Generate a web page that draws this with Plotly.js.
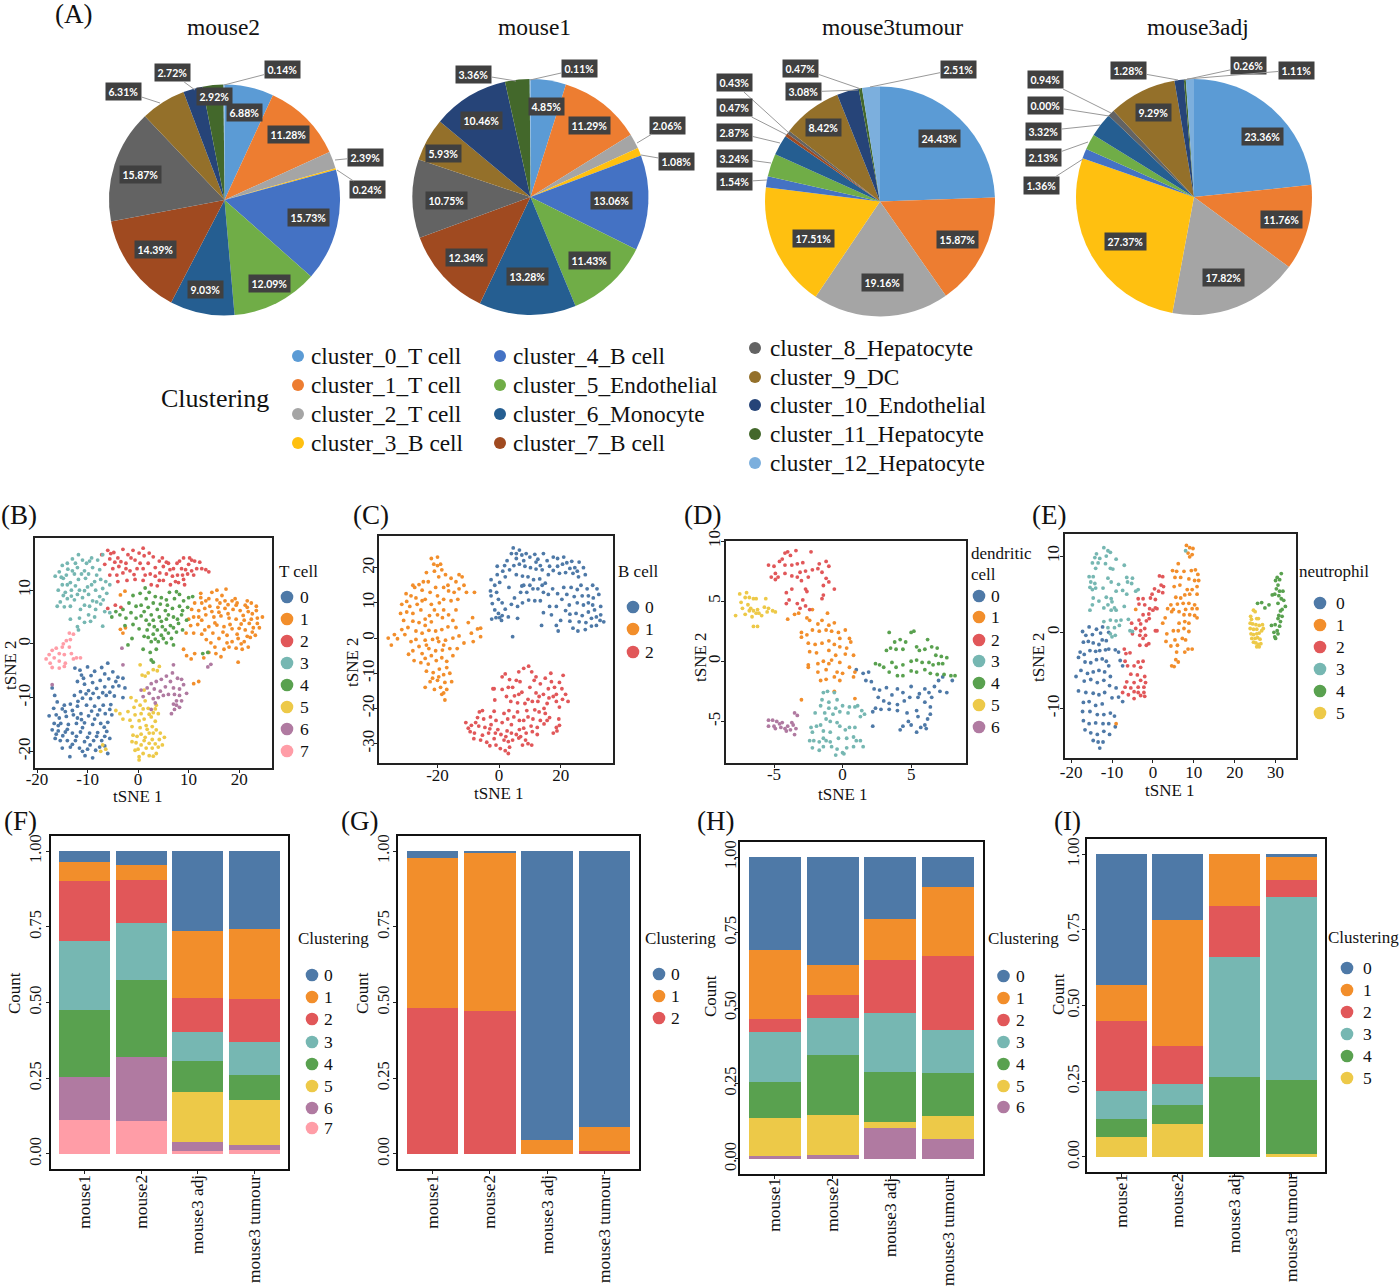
<!DOCTYPE html>
<html><head><meta charset="utf-8">
<script src="https://cdn.plot.ly/plotly-3.0.1.min.js"></script>
<style>html,body{margin:0;padding:0;background:#fff}</style></head>
<body><div id="chart" style="width:1400px;height:1286px"></div>
<script>
const W=1400,H=1286,SERIF='"Liberation Serif","Times New Roman",serif';
// ---- pie data ----
const clusterNames=['cluster_0_T cell','cluster_1_T cell','cluster_2_T cell','cluster_3_B cell','cluster_4_B cell','cluster_5_Endothelial','cluster_6_Monocyte','cluster_7_B cell','cluster_8_Hepatocyte','cluster_9_DC','cluster_10_Endothelial','cluster_11_Hepatocyte','cluster_12_Hepatocyte'];
const pieColors=['#5B9BD5','#ED7D31','#A5A5A5','#FFC010','#4472C4','#70AD47','#255E91','#A04A20','#636363','#94702A','#264478','#43682B','#7CAFDD'];
const mouse2Pie=[6.88,11.28,2.39,0.24,15.73,12.09,9.03,14.39,15.87,6.31,2.72,2.92,0.14];
const mouse1Pie=[4.85,11.29,2.06,1.08,13.06,11.43,13.28,12.34,10.75,5.93,10.46,3.36,0.11];
const tumourPie=[24.43,15.87,19.16,17.51,1.54,3.24,2.87,0.43,0.47,8.42,3.08,0.47,2.51];
const adjPie=[23.36,11.76,17.82,27.37,1.36,2.13,3.32,0.00,0.94,9.29,1.28,0.26,1.11];
// ---- bar data (top to bottom = cluster 0 ...) ----
const sampleNames=['mouse1','mouse2','mouse3 adj','mouse3 tumour'];
const tab=['#4E79A7','#F28E2B','#E15759','#76B7B2','#59A14F','#EDC948','#B07AA1','#FF9DA7'];
const barF=[[.037,.046,.265,.255],[.063,.051,.220,.232],[.197,.143,.113,.142],[.227,.186,.096,.111],[.221,.254,.103,.082],[0,0,.164,.149],[.144,.214,.030,.014],[.111,.107,.010,.014]];
const barG=[[.022,.007,.953,.911],[.495,.520,.047,.078],[.483,.473,0,.011]];
const barH=[[.308,.357,.204,.100],[.231,.099,.138,.227],[.043,.078,.176,.247],[.163,.122,.195,.143],[.119,.200,.166,.140],[.127,.131,.019,.076],[.010,.013,.102,.067]];
const barI=[[.431,.218,0,.010],[.121,.416,.170,.075],[.232,.126,.169,.058],[.091,.068,.397,.602],[.058,.065,.264,.245],[.067,.107,0,.010]];
// ---- tSNE points ----
const T0=[[-12.5,-4.5],[-11.2,-5.8],[-10,-4.3],[-8.6,-5.1],[-7.2,-4.4],[-6,-3.6],[-5,-5.2],[-4,-6.2],[-3,-6.4],[-5.8,-6.5],[-7.5,-6.8],[-9,-7.2],[-10.6,-7.5],[-12,-7],[-11.4,-8.9],[-9.8,-8.7],[-8.2,-8.3],[-6.6,-8],[-5,-8],[-3.8,-7.8],[-2.6,-8.2],[-3,-10],[-4.7,-9.7],[-6.3,-9.6],[-7.8,-10],[-9.4,-10.2],[-11,-10.1],[-12.6,-9.6],[-13.4,-11.2],[-12,-11.6],[-10.2,-11.4],[-8.6,-11.6],[-6.9,-11.4],[-5.4,-11.3],[-17,-8.2],[-16.5,-9.6],[-16,-10.8],[-16.7,-12],[-17.6,-13.4],[-16.2,-13.2],[-15,-12.1],[-14.2,-13.5],[-12.8,-13.2],[-11.3,-13],[-9.8,-13.4],[-8,-13.2],[-6.5,-13],[-5.2,-13.2],[-6,-14.6],[-7.4,-14.8],[-9,-15],[-10.6,-14.7],[-12.2,-14.8],[-13.8,-15],[-15.3,-14.8],[-16.6,-14.8],[-17,-16],[-15.8,-16.2],[-14.4,-16.4],[-13,-16.6],[-11.4,-16.4],[-9.6,-16.6],[-8,-16.5],[-6.2,-16.3],[-5.6,-17.6],[-7.2,-18],[-8.8,-18],[-10.6,-18.2],[-12.4,-18],[-14,-18],[-15.4,-18],[-16.4,-17.6],[-15,-19.4],[-13.4,-19.2],[-11.6,-19.4],[-10,-19.6],[-8.4,-19.8],[-6.6,-19],[-13.5,-21],[-10.5,-20.8],[-9,-21.2],[-6,-20.4],[-10.8,-6.4],[-7,-9.1],[-13,-12.4],[-14.9,-17.1],[-11,-15.6],[-8.2,-17.2],[-11.5,-4.9],[-9.3,-5.9],[-6.6,-5.6],[-4.4,-7],[-8.9,-9.2],[-10.3,-9.3],[-5.6,-9],[-11.9,-10.7],[-7.6,-12.3],[-14.6,-11.4],[-15.6,-13.8],[-12,-13.8],[-8.6,-14],[-6.7,-15.5],[-14,-15.9],[-12.2,-17.2],[-10,-17.4],[-15.8,-15.2],[-13,-18.7],[-9.5,-18.8],[-7.6,-19.2],[-11,-20],[-14.4,-12.6],[-5.6,-12.2],[-9.2,-12.5],[-11.2,-14.1],[-16.2,-16.8],[-6.6,-17.2]];
const T1=[[9,-1],[9.6,-2.2],[10.5,-2.8],[11,2],[9.5,2],[10.4,3.4],[11.8,3.6],[12.6,1.8],[13.5,0.8],[14.8,2],[16,1],[17.6,1.6],[18.6,0.4],[19.8,1],[21,0.4],[22.2,1.2],[23.2,1.6],[24,3],[22.8,3],[21.2,2.6],[20,2.9],[18.6,2.8],[17,3.2],[15.6,3.5],[14,3.2],[12.6,4.4],[11,5],[12,6.2],[13.4,5.4],[15,5],[16.4,5.2],[18,4.8],[19.4,4.6],[21,4.4],[22.4,4.6],[23.6,4.8],[24.6,5],[23.4,6.2],[21.8,6],[20.2,6.2],[18.8,6.4],[17.2,6.6],[15.8,6.8],[14.2,7],[12.6,7.6],[11.2,7.6],[10.6,6.4],[12.4,8.6],[14,8.4],[15.6,8.2],[17.2,8],[18.6,8],[19.6,7.6],[21.2,7.2],[22.4,7.6],[21.6,8],[23.4,7],[16.6,9],[19.2,8.4],[12.4,9.4],[14.6,9.6],[17.4,10.2],[15.6,10],[18,-0.6],[19.4,-0.8],[20.6,-1],[17,-1],[15.4,-1.8],[16.4,-2.4],[14,-1.6],[13,-2.6],[19.8,-3.4],[11.2,-1.8],[21.8,-0.6],[-3.5,2.7],[-3,2],[-2.5,3],[-2.6,9.8],[-3.5,9.1],[12,-7],[11,-7.4],[13.2,2.6],[15.2,3.9],[16.8,2.2],[18.2,3.6],[19.6,1.8],[21.6,1.4],[22.6,2.2],[23.6,3.8],[22,3.8],[20.4,3.7],[17.8,5.6],[16,5.9],[14.6,6],[13.2,6.6],[20.8,5.3],[22.6,5.6],[19.4,7.2],[17.8,7.3],[16.2,7.6],[13.4,8],[21.6,6.8],[12,5],[10,4.6],[14.4,0.2],[17.6,0.2],[20.4,0],[15.2,-0.6]];
const T2=[[-7.2,16.6],[-6,17.4],[-5.6,15.8],[-6.6,14.8],[-4.8,17],[-4,16],[-3,17.6],[-2,16.6],[-1,17.4],[-0.6,15.6],[-2.4,15],[-3.8,14.4],[-5,14],[-5.6,12.8],[-4.2,12.8],[-3,13.2],[-1.6,13.6],[-0.2,14],[1,17.8],[1.2,16.4],[2,15],[1,14],[2.4,13],[3.4,12.6],[3,16.2],[4.2,15.4],[5,14.4],[5.6,13],[6.8,12.6],[4.8,16],[6,15],[7,14],[7.8,12.8],[8,11.4],[6.4,11],[5,11.8],[9,12],[9.8,13],[9.2,11],[8.2,15.4],[9,16],[10,14.8],[10.6,13.6],[11.2,15.4],[11.6,14],[12.2,15.2],[12.6,14],[13.4,13.8],[14,13.4],[10.2,16],[8.6,14],[-4,11.6],[-2.2,11.8],[-0.6,12],[1,11.8],[2.6,11],[3.8,10.8],[-6,6.6],[-4.5,7.2],[-3.4,6.8],[-3.4,15.3],[-1.4,16],[0.2,16.9],[0.4,15],[2.2,16.9],[3.4,14.2],[-2.4,14],[-4.6,15.2],[-5.4,16.8],[-0.8,12.9],[1.4,12.8],[4.3,13.2],[6.3,13.8],[7.7,15],[9.4,13.8],[11,12.8],[7.4,11.6],[4.2,11.8],[8.8,12.8],[10.6,15.6],[5.6,15.2]];
const T3=[[-11.8,16.6],[-11,15.6],[-13,15.8],[-14,15],[-15,14.6],[-16.4,12.6],[-15.6,13.4],[-14.2,12.8],[-13,13.6],[-12,14.2],[-10.6,13.6],[-9.6,15.4],[-9,14.2],[-8,15.6],[-7.6,13.8],[-7,16.6],[-10.4,12.2],[-11.8,12],[-13.4,11.4],[-15,11],[-15.8,10],[-14.4,9.6],[-13.2,10],[-11.6,10],[-10,10.6],[-8.6,11.6],[-7.4,12],[-6.4,11.6],[-5.6,11],[-8.4,10],[-9.8,9.2],[-11,8.6],[-12.6,8.2],[-14,8.4],[-15.4,7.8],[-16,7],[-14.6,6.9],[-13.4,7],[-10.6,7.2],[-9,8],[-7.6,8.8],[-6.2,9.4],[-7.4,7.4],[-8.4,6.4],[-6.6,6],[-5.6,5.8],[-9.8,5.4],[-8.6,5],[-10.6,4],[-11.6,4.8],[-12,3.2],[-13.4,4.6],[-11.8,2.6],[-7,3.3],[-9.4,4.2],[-12.6,13],[-14.8,12.2],[-10.2,15],[-8.2,12.8],[-12.4,15],[-11.2,13],[-13.9,13.9],[-15.2,12.4],[-14,11],[-12.4,10.8],[-9.2,11],[-7,10.3],[-10.6,9.9],[-12,9.2],[-14.8,9],[-13.2,8.9],[-9.6,7],[-6.9,8.2],[-8.2,7.8],[-9.8,13],[-9.2,16],[-11.4,6.4]];
const T4=[[-5.2,5],[-4.4,6],[-3,6.4],[-2.4,4.8],[-1.4,5.8],[-1,3.6],[-2.6,3.4],[-0.4,7],[-1.8,7.6],[-1,9],[0.4,9.4],[1.4,10.4],[1.6,8.4],[0.6,7.2],[2,6.8],[0.6,5.2],[1.6,4.4],[2.6,5.4],[3,7.6],[3.4,8.8],[4.4,7.4],[5.6,8.2],[6.2,9.6],[7.2,8.4],[8.2,9.2],[9,8],[10,8.6],[9.8,6.8],[8.2,7],[6.8,6.6],[5.4,6.2],[4.2,5],[5.6,4.6],[7,5],[8.6,5.4],[9.6,4.4],[8,3.8],[6.4,3.4],[4.8,3.2],[3.2,3.2],[1.8,2.6],[3,1.8],[4.6,1.6],[6,2],[7.6,2.2],[8.8,2.6],[10.8,8.8],[4,0.4],[5.6,0.2],[2.6,0.4],[1.2,1.4],[0.2,2.8],[-1.2,1],[-2,-0.2],[1,-1],[2.4,-1.6],[2.6,-3],[3,-3.4],[3.6,-1],[7,-0.2],[12.8,-1.8],[13.8,-1.6],[-3.6,5.4],[-0.4,4.8],[1.2,6],[2.2,9.6],[3.8,6.4],[4.6,8.6],[5.8,7.2],[7.6,9.7],[8.8,6.2],[6,5.4],[7.8,4.6],[4.6,4.2],[3,4.4],[2.2,3.6],[5.4,2.6],[7,3],[3.8,2.6],[2,1.2],[3.4,0.9],[5,1],[6.6,1]];
const T5=[[-4.4,-12.4],[-3.6,-13],[-3,-14],[-2,-12.6],[-1.6,-14.2],[-0.6,-13.2],[-1.4,-10],[-0.4,-10.6],[0.4,-11.4],[1.4,-10.6],[2,-12],[0.6,-13],[1.2,-14],[2.6,-13.6],[3.4,-14.4],[3,-12.8],[3.6,-11.4],[4,-13],[-1.2,-15.4],[0.4,-15.6],[1.6,-15.2],[2.8,-15.4],[3.6,-16],[4.4,-16.6],[0.6,-16.8],[2.2,-16.6],[-1,-17],[5.2,-17.4],[4.2,-17.8],[2.8,-17.8],[1.2,-18],[-0.4,-18.4],[-1.2,-18.2],[0,-19.6],[-0.6,-19.8],[1.6,-19.4],[2.8,-19.4],[4,-19.2],[4.8,-18.8],[3.6,-20.4],[2.2,-20.8],[0.2,-21],[0.2,-21.6],[-7,-18.8],[-6.4,-19.6],[-7.4,-20],[0.8,-5.8],[1.4,-6],[2,-5.4],[3,-4.8],[3.8,-5],[4.2,-4.2],[0.4,-3.9],[1.2,-8.6],[3.4,-12.1],[-0.8,-11.8],[1,-12.1],[2.2,-13.1],[0.2,-14.3],[1.8,-15.9],[3,-16.6],[-0.2,-17.2],[1.4,-17.4],[3.4,-18.6],[0.6,-18.8],[2.2,-18.5],[1,-20.4],[3,-20.9]];
const T6=[[0.6,-8.6],[1,-9.8],[1.8,-8.2],[2.2,-9.2],[2.6,-7.4],[3.6,-7],[3.2,-8.4],[4.6,-6.6],[5.6,-6],[6.8,-5.4],[7,-3.9],[6.4,-7],[7.8,-6.4],[8.6,-6.6],[9,-7.6],[8.2,-8.4],[7,-8.2],[5.4,-8],[4.4,-8.8],[5,-9.6],[6,-9.4],[7.2,-9.4],[8.2,-9.6],[9.6,-9.2],[8.6,-10.6],[7.6,-10.6],[7,-11.2],[7.6,-11.4],[8.2,-11.8],[7.2,-12.2],[6.6,-13],[3,-10.2],[3.4,-11],[4,-10],[2.6,-12.2],[-17,-7.6],[13.8,-4.3],[14.4,-3.8],[-3.2,-0.8],[-3,-3.9]];
const T7=[[-18.2,-2.8],[-17.4,-3.6],[-17.6,-2],[-17,-1.2],[-16.6,-2.6],[-17,-4.4],[-16.2,-0.8],[-15.6,-1.8],[-15,-0.6],[-14.6,-2],[-15.6,-3.2],[-14.4,-3.6],[-14.8,0],[-14.2,0.6],[-13.6,-0.6],[-13.2,-1.8],[-12.8,-2.8],[-12.2,-2.6],[-11.4,-2.6],[-13.4,0.8],[-12.8,1.8],[-13.6,2],[-14.6,-4.2],[-15.6,-4.5]];
const B0=[[-2.4,5.4],[-1,5.8],[-0.2,7],[-1.4,8],[-2.2,9.8],[-2.6,12],[-2.8,13.4],[-1.4,15],[-2.6,16.6],[-0.6,18],[-0.8,13],[-0.2,11],[1,10],[2,8.2],[1,6.4],[0.8,5],[0.2,5.8],[1.2,19],[1.8,20.6],[2.6,22],[4,24],[4.6,25.6],[5.6,24],[6.6,25],[7.4,23.6],[8.8,24],[10,23],[11.6,23.8],[12.6,22.4],[14.4,24],[15.6,22],[17.6,23],[19,22.6],[20.6,21],[21,23],[22,21.4],[23.6,21.8],[24.6,20],[26,21.6],[27.4,20],[28,18],[25.8,17.4],[24,18.4],[21.6,18.6],[19.6,18.4],[17.6,19.2],[16,18],[14,19.4],[12,19.6],[10.2,20],[8.4,20.4],[6.6,21],[4.8,20.6],[3.4,19.4],[5.6,18],[7.6,17.6],[9.4,17.4],[11.2,16.6],[13.2,16.8],[15,15.6],[12.6,14],[14.4,13],[16,12.4],[11,14],[9,13],[7,13],[5,11.4],[4,9.6],[6,9],[7.6,10],[9.6,10.8],[11.6,10.6],[13.4,10.6],[16.4,9],[18.6,9],[20.4,11],[22,12.4],[23.4,14.4],[25.4,13.8],[27,12],[28.6,14],[30.4,15],[31.8,14],[32.4,12.4],[30.6,11.4],[29,10],[27.4,9.4],[25.4,10],[22.8,9.4],[21.6,7.8],[23,6.8],[25,7],[27,6.4],[29,7.4],[31,8],[33,6.6],[32.8,5],[34,4.6],[31.6,3.6],[30,3.4],[28,2.4],[25.6,2],[24,2.8],[23,4.8],[20,5],[18.6,3.6],[19.2,2],[13.8,3.6],[6,5.6],[3,6],[14.4,7.2],[17,6.6],[28.2,4.4],[33,9],[4.4,0.4],[7.4,14.8],[0.2,15.8],[-0.6,20.4],[2,17.4],[3.2,14.4],[5.6,22.6],[8,22],[12,21.6],[13.4,20.6],[16.4,20.4],[19,20.4],[23,19.8],[25.4,19],[8,15],[10,15],[14,15],[17.4,14],[19,12.6],[21,14.4],[24.4,11.8],[26.6,15],[29,12],[30.4,9.4],[26,4.6],[30,5.6],[31.6,6]];
const B1=[[-36,0],[-35,-2],[-34,1],[-33,-0.2],[-31.6,2.4],[-30.6,1],[-29.6,3],[-31,5],[-32,7],[-30,7.4],[-31.6,9.6],[-30,10.4],[-28.6,12],[-30.2,12.6],[-27.4,14.4],[-26,15.2],[-25,13.6],[-26.6,9.6],[-25.4,8],[-24,11],[-22.4,13],[-23,16],[-20.6,14.4],[-19.6,17.4],[-21,19],[-22,22.6],[-21.2,21],[-20,20.6],[-18.6,19.4],[-17.4,18],[-15.6,17],[-14,16],[-12,17.4],[-11.4,15],[-13,14],[-14.6,13],[-16.4,13.4],[-18,14.4],[-18,11],[-15.6,10.6],[-13.4,11],[-10.6,13],[-8,13],[-19.4,10],[-21,8],[-22.6,6.4],[-24,5.4],[-26,4.4],[-28,4.8],[-20,6.6],[-18.4,5.8],[-16.4,6.6],[-15,5],[-16.6,3.2],[-18.6,2.4],[-20.6,2],[-22.8,2.2],[-25,1.4],[-27,-0.4],[-28.6,-1],[-26,-2.4],[-24,-0.6],[-21.6,-0.4],[-19.6,-1],[-17.4,-0.6],[-15,0],[-13,0.6],[-11.4,-1.4],[-13.6,-3],[-16,-3],[-18.4,-3.4],[-20.6,-3.6],[-22.8,-3],[-25,-4.4],[-28,-3.6],[-29.4,-4.6],[-27.6,-6.4],[-25.4,-7],[-23,-7.4],[-20.4,-6.4],[-18.6,-5.6],[-17,-6.6],[-19.4,-8.8],[-21.4,-9.8],[-23.6,-9.4],[-18,-10.4],[-16,-10],[-15.4,-12.4],[-17.6,-12.6],[-20,-12],[-22.4,-12.4],[-24,-14],[-21,-14.6],[-19,-14],[-17,-14.6],[-18.6,-16],[-17.6,-17.6],[-18,-15.6],[-10,4.4],[-9,1.4],[-8.4,-1],[-7,2.6],[-6,0.4],[-8.6,5.8],[-6,2.8],[-28,7],[-27,11.4],[-24.6,16],[-28,15],[-20,23],[-19,21],[-23.6,18.6],[-25,10.6],[-22,9.6],[-20,12],[-16.6,15],[-13,18],[-29,9],[-27,2],[-24,3.6],[-22,4.6],[-18,8],[-14,8],[-14,3],[-20,0],[-23.6,-2],[-18,-2],[-15,-5],[-24,-5.8],[-22,-5],[-19.6,-11],[-21.6,-11.4],[-17,-8.4]];
const B2=[[-10.8,-24],[-10,-25.6],[-9,-24.8],[-9.4,-26.6],[-8,-27],[-8.2,-28.6],[-6.6,-25],[-7,-22.6],[-6.4,-21],[-5.4,-20.6],[-5,-23],[-4.6,-25.4],[-5.4,-27.6],[-6,-29],[-4,-29.6],[-3.4,-27],[-2.6,-24.6],[-2.8,-22.4],[-1.6,-20.8],[-1,-23.4],[-0.4,-26],[-1.6,-28.6],[-3,-30.6],[-1,-30.4],[0.4,-31.4],[2,-32],[3,-32.8],[3.4,-31],[1.6,-29],[0.6,-27.4],[1,-24],[1.6,-21.4],[2.6,-26.4],[4,-27],[4.4,-29],[4,-24.6],[3.2,-20.6],[3.8,-18],[2.4,-16.6],[1,-14.6],[-1.4,-17.6],[-1.6,-14.4],[1,-11],[2,-10.2],[3.4,-11.8],[4.4,-14],[5,-16.4],[6,-18.4],[6,-21],[6.6,-23.4],[6.6,-26],[6.4,-28.4],[7.6,-30.4],[8.6,-29],[8.8,-27],[9.4,-30],[10.6,-30.4],[10.8,-26.6],[8,-23.4],[9,-20.6],[9.4,-17.4],[7.4,-15.4],[6.8,-12.4],[6.4,-9.6],[8,-8.6],[9.6,-8],[10.6,-9.6],[11.4,-12],[10,-14],[12,-15.6],[13.4,-13],[12.6,-18],[11.6,-20.4],[11,-23],[10.4,-25],[12.4,-25.4],[13.4,-23.4],[13,-21],[15,-21.4],[14.6,-24.4],[15.6,-18.6],[14.4,-16],[16,-14.4],[15,-11.4],[16.8,-10],[17,-12.4],[18,-14],[17.6,-16.6],[18.6,-18],[19.6,-19.6],[20.6,-17.4],[21.6,-16],[22.4,-18],[20.4,-14.4],[19.6,-12.6],[20.8,-10.6],[19.4,-23],[18.6,-25.4],[17.6,-27],[18.8,-26.4],[19.6,-24.8],[16.4,-22.6],[12.4,-27.4],[-2,-14.4],[-7.6,-24],[-3,-25.8],[-1.2,-27],[2.2,-28],[3,-29.4],[5.6,-27.4],[7,-28],[8,-25.6],[2.8,-23],[4.8,-22.4],[9.4,-22.4],[8.4,-18.6],[10.8,-18],[6.4,-16],[3,-14],[5.6,-12],[13,-16.6],[14.6,-20],[15.6,-23.4],[12,-11],[18.6,-16],[16.2,-17]];
const D0=[[1,-0.7],[1.5,-1],[1.9,-0.9],[1.7,-1.6],[2.1,-1.7],[2.3,-2.3],[2.6,-3],[2.7,-2.4],[3.2,-2.2],[3.6,-2.8],[4,-2.3],[4.4,-2.6],[5,-2.1],[5.6,-2.7],[6,-2.3],[6.3,-2.6],[6.7,-2.1],[7,-1.6],[7.3,-1.3],[7.6,-2.6],[8,-1.6],[7.1,-2.5],[6.5,-3],[6,-3.4],[5.5,-3],[4.9,-3],[4.5,-3.3],[4,-3.6],[3.4,-3.5],[3,-3.3],[2.4,-3.9],[2.2,-4.2],[2.8,-4],[3.4,-4],[4,-4.1],[4.7,-4.3],[5.4,-4.1],[6.4,-3.8],[6.4,-4.4],[6.2,-4.8],[5.5,-4.6],[4.8,-5],[4.4,-5.4],[5,-5.3],[4.2,-5.7],[5.4,-5.9],[5.7,-5.5],[6,-5.3],[6.1,-5.6],[2.2,-5.4]];
const D1=[[-4,3.5],[-3.5,3.9],[-3.2,4],[-2.6,3.6],[-2.4,3.4],[-2.2,4.3],[-1.8,3.1],[-1.5,3.4],[-1.1,4],[-1,3],[-0.6,3.2],[-3,2.4],[-2.6,2.2],[-3,2],[-2.2,2.6],[-1.7,2.5],[-1.2,2.6],[-0.8,2.5],[-0.3,2.4],[0.2,2.6],[-0.2,1.9],[0.5,1.9],[-2.5,1.5],[-2,1.4],[-1.5,1.5],[-1,1.7],[-0.6,1.4],[-0.2,1.2],[0.3,1.1],[0.6,1.6],[-2.4,0.8],[-1.9,0.7],[-1,0.9],[-0.5,0.5],[0.2,0.6],[0.8,0.5],[-2.5,-0.3],[-1.8,-0.2],[-1.4,0],[-1,-0.2],[-0.8,0.1],[-0.2,-0.1],[0.5,-0.5],[-2.5,-0.5],[-1.8,-0.9],[-1.2,-0.7],[-0.4,-0.9],[0,-1],[0.9,-0.9],[-1.6,-1.6],[-1.2,-1.5],[-0.6,-1.3],[-0.2,-1.6],[0.8,-1.3],[-3,-3.2],[-0.6,-2.5],[0.9,-3.1]];
const D2=[[-5.4,8],[-5,7.9],[-4.6,8.3],[-4.4,8.5],[-4.9,7.3],[-4.7,7],[-5.2,7],[-4.9,6.8],[-4.2,8],[-4.2,9],[-4,9.1],[-3.8,8.8],[-3.4,9.2],[-3.7,8],[-3.3,8.1],[-2.9,8.2],[-2.3,9.1],[-4.2,7.3],[-3.7,7.1],[-3.3,7],[-3.1,7.4],[-2.7,7.5],[-2.2,7.6],[-1.8,7.7],[-1.7,8.1],[-1.2,8.3],[-1,7.9],[-1.5,7.4],[-1.2,6.9],[-2.5,7],[-3,6.7],[-1,6.6],[-1.4,6.3],[-0.6,6],[-2.7,6],[-2.6,5.8],[-3.7,6],[-4.1,5.7],[-3.9,5.1],[-1.4,5.5],[-1.5,5.2],[-4.1,4.8],[-3.3,4.8],[-2.9,5.1],[-2.7,4.6],[-3.1,4.4],[-2.4,4.3]];
const D3=[[-1.4,-2.6],[-1.1,-2.5],[-0.6,-2.6],[-1.5,-3.2],[-1,-3.4],[-0.4,-3.2],[-1.6,-3.7],[-1,-3.9],[-0.5,-3.9],[0,-3.7],[0.5,-3.8],[0.9,-3.8],[-2,-4.3],[-1.3,-4.3],[-0.7,-4.4],[-0.2,-4.2],[0.4,-4.3],[1.1,-3.7],[1.4,-4.1],[1.6,-4.4],[1.3,-4.6],[-1.2,-4.8],[-0.9,-5],[-0.4,-5.1],[-1.6,-5.3],[-2.3,-5.5],[-1.9,-5.4],[-2.2,-5.9],[-1.4,-5.8],[-0.9,-5.9],[-0.2,-5.4],[0.2,-5.7],[0.5,-5.5],[0.9,-5.5],[-1.4,-6.4],[-1.2,-6.6],[-2.1,-6.6],[-2.4,-6.6],[-1.7,-6.7],[-0.9,-6.7],[-0.3,-6.4],[0.3,-6.4],[0.8,-6.3],[1,-6.6],[1.3,-6.6],[-2.2,-7.2],[-1.7,-7.4],[-1.4,-7.1],[-0.8,-7.1],[-0.4,-7.3],[0,-7.6],[0.3,-7.2],[0.8,-7.1],[1.5,-7.1],[-0.5,-7.8],[0.1,-7.7]];
const D4=[[2.4,-0.2],[2.7,-0.3],[3,-0.5],[3.4,-0.9],[3.6,-0.1],[3.9,-0.5],[4.4,-0.3],[4,-1.2],[4.4,-1.2],[3.2,0.9],[3.5,1.1],[3.8,1.6],[4.2,1.8],[4.6,1.6],[4.4,1],[3.9,1],[3.4,2.4],[5.2,2.5],[5,2.4],[5.4,1.2],[5.6,0.9],[6,1],[6.2,1.8],[6.5,1.2],[6.9,1.1],[6.8,0.5],[7.2,0.4],[7.6,0.3],[5,0],[5.4,0.1],[5.8,-0.1],[6.3,-0.1],[6.6,-0.3],[7,-0.2],[7.3,-0.2],[5,-0.8],[5.4,-0.9],[6,-0.7],[6.4,-1],[6.9,-1.1],[7.4,-1.1],[7.9,-1.2],[8.2,-1.2]];
const D5=[[-7.8,3.8],[-7.5,5.6],[-7.4,4.9],[-7.3,4.4],[-7.1,5.3],[-7.1,3.9],[-7,5.7],[-6.9,4.7],[-6.8,4.2],[-6.7,4.4],[-6.6,3.7],[-6.5,4.2],[-6.8,5.3],[-6.5,5.2],[-6.3,5.2],[-6.3,4],[-6.2,4.3],[-6.1,4],[-5.9,3.8],[-5.7,4.5],[-5.6,5.2],[-5.5,4.1],[-5.4,4.4],[-5.1,4.2],[-4.9,4.1],[-6.5,2.9],[-6.2,2.9]];
const D6=[[-5.4,-5.4],[-5.4,-4.9],[-5.1,-4.9],[-5,-5.4],[-4.9,-5.6],[-4.8,-5],[-4.6,-5.2],[-4.5,-5.5],[-4.4,-5.1],[-4.2,-5.6],[-4.1,-5.8],[-4,-5.4],[-3.8,-5.7],[-3.7,-5.1],[-3.6,-5.3],[-3.4,-5.6],[-3.5,-4.3],[-3.3,-4.5],[-3.5,-6.1]];
const N0=[[-17.2,0.1],[-16.4,-0.4],[-15.6,0.7],[-14.8,-0.3],[-13.8,0.4],[-12.8,-0.1],[-12.3,0.7],[-10.8,0],[-17,-1.3],[-15.8,-1.2],[-14.6,-1.4],[-13.2,-1.6],[-12.4,-1],[-11.4,-1.1],[-17.8,-2.6],[-16.8,-2.9],[-15.4,-2.4],[-14,-2.5],[-13,-2.4],[-11.6,-2.3],[-10.8,-2.2],[-9.2,-2.3],[-8.4,-2.6],[-18.2,-3.3],[-16.6,-3.9],[-15.2,-4],[-13.8,-3.6],[-12.4,-3.5],[-11.4,-3.8],[-10.8,-4.4],[-8,-3.7],[-7.4,-4.4],[-17.6,-5],[-16,-5.4],[-14.6,-5.2],[-13.2,-5],[-11.8,-5.2],[-10.4,-5.8],[-18.8,-5.8],[-16.8,-6.4],[-15.2,-6.2],[-13.6,-6.6],[-12,-6.3],[-10.6,-7],[-9,-7.3],[-18.2,-7.7],[-16.4,-7.9],[-14.6,-8],[-13.2,-8.2],[-11.8,-7.9],[-10,-8.6],[-8.4,-8.5],[-7.4,-9.1],[-17,-9.2],[-15.6,-9.1],[-14,-9.6],[-12.4,-9.4],[-17.2,-10.4],[-15.4,-10.4],[-13.6,-10.8],[-12,-10.8],[-10.4,-10.6],[-9.4,-11],[-17,-11.6],[-15.6,-12],[-14,-11.9],[-12.2,-12],[-10.8,-12],[-9.2,-12.4],[-16.6,-12.8],[-15.2,-13.2],[-13.6,-13.4],[-12,-13],[-10.6,-13.4],[-14.6,-14.2],[-13.4,-14.4],[-12.2,-14.4],[-13,-15.2]];
const N1=[[8.2,11.4],[9,11.1],[9.8,11],[8.6,10.4],[9.6,10.2],[9,9.9],[6.2,9],[4.8,8.1],[5.8,8],[7.6,8],[9.4,8.1],[10.4,8.2],[11,7.6],[5.4,7.2],[6.8,7.2],[8.8,7],[10.2,6.8],[11.2,6.8],[5.2,6],[6.6,6.2],[8.4,5.6],[9.6,5.6],[10.8,6],[5.6,4.6],[6.8,4.5],[7.8,4.9],[9,5],[10.8,5],[4.4,3.6],[6,3.7],[7.4,3.8],[8.8,3.8],[10.2,3.6],[3.6,3.1],[5,3],[6.4,2.7],[8,3],[9.6,3.1],[10.8,3.1],[4.6,2.7],[7.6,2.3],[9,2.3],[10.2,2.2],[10.8,1.9],[2.4,1.2],[3,1.9],[6.4,1.2],[7.8,1.4],[8.8,1.2],[5,0.2],[6.2,0.2],[7.6,0.5],[8.8,0.1],[3.4,-0.2],[5.4,-1],[7.2,-0.8],[8,-1],[3.2,-1.2],[4.4,-1.8],[6,-1.7],[8.6,-2.2],[9.6,-2.2],[5.8,-2.6],[7.8,-2.6],[5.6,-3.6],[4.6,-4.4],[5.2,-4.5],[6.2,-3.9],[-4.2,3],[-9,-12]];
const N2=[[1.6,7.4],[2.4,7.3],[2,6.2],[2.6,6],[0.4,5.7],[-0.2,5],[1.4,5.4],[2.4,5.2],[-3.6,4.4],[-2.4,4.4],[-0.6,4.5],[0.6,4.3],[-3.4,3.7],[-2,3.6],[-0.8,3.1],[0.6,3.2],[1,3.1],[-2.4,2.3],[-1,2.4],[0,2.9],[-3.4,1.6],[-1.6,1.5],[-0.9,1.8],[-5.2,1.2],[-3,1.1],[-2,0.5],[-4.2,0.5],[-3,0.2],[-1.8,-0.4],[-5,-0.2],[-3.2,-0.4],[-2.4,-0.8],[0.6,0.2],[1,0.2],[-3.2,-1.7],[-1.6,-1.7],[-1,-1.5],[-7,-2.2],[-6.6,-2.8],[-5.6,-2.7],[-6.8,-3.8],[-6.2,-4.4],[-3.6,-3.9],[-2.4,-3.8],[-4.6,-4.4],[-3,-4.6],[-5.4,-5.5],[-3.8,-5.6],[-2,-5.8],[-6.4,-6.5],[-4.6,-6.6],[-3,-6.3],[-1.8,-6.6],[-6.8,-7.2],[-5.4,-7.3],[-3.6,-7.2],[-2.2,-7.2],[-7.4,-7.9],[-4.6,-7.8],[-3.6,-7.9],[-2.2,-7.9],[-6,-8.2],[-3,-8.3],[-2,-8.4],[-4.6,-8.7]];
const N3=[[-12,11.1],[-11,10.7],[-10.4,10.5],[-13.8,10.3],[-14.2,9.8],[-13,9.7],[-11.4,10],[-9,9.6],[-14.8,9.1],[-13.4,9.1],[-14,8.4],[-11.6,9],[-7,8.8],[-10.4,8.4],[-9.8,8.3],[-15.6,7.3],[-14.6,7.3],[-15.2,6.6],[-14.2,6.4],[-11,7.1],[-6.4,7.2],[-5,7.1],[-15.4,5.9],[-14.8,5.6],[-14,5.8],[-10.2,6.6],[-8.4,6.3],[-6.2,6.6],[-5.2,6.4],[-12.2,5.8],[-9,5.4],[-7.4,5.5],[-4.2,5.4],[-3.6,5.6],[-14.6,4.5],[-11.4,4.6],[-10.2,4.4],[-6.4,5],[-14.8,3.6],[-13.2,4.1],[-11,3.6],[-10,4],[-9,2.9],[-7,3.4],[-15.4,2.9],[-12,3.2],[-10.2,2.9],[-9.4,3.2],[-12,1.4],[-10.4,1.6],[-9,1.5],[-7.8,1.6],[-6,1.7],[-11,0.6],[-9.4,0.6],[-8.2,0.9],[-10.4,-0.2],[-9.2,-0.4],[-5.6,0.2],[-5,0.1],[-10,-0.6],[8,10.7]];
const N4=[[28.4,3.6],[29.2,4.9],[30,6.8],[30.4,7.2],[30.6,6.2],[31,6.9],[31.4,7.7],[30.2,5.7],[31,5.4],[31.8,5.4],[29.8,5],[30.8,4.8],[31.4,4.4],[32,4.2],[30.6,3.8],[31.6,3],[32.4,3.4],[31.2,2.8],[30.8,2.2],[31.6,2.1],[31.2,1.4],[30.6,1.8],[31,0.8],[29.9,1],[30.4,0.2],[29.6,0],[30.6,-0.2],[29.8,-0.6],[30,-0.8],[27.4,3.2],[29,0.9],[25.6,3.8],[26.6,3.9]];
const N5=[[24.6,2.9],[25,2.7],[23.9,2.1],[24.1,1.7],[25.4,1.8],[25.8,1.8],[23.8,1.2],[24.4,1.1],[25.2,1],[26,0.9],[26.8,1],[27,0.5],[23.8,0.5],[24.6,0.4],[25.4,0.4],[26.6,0.2],[24,-0.2],[24.6,-0.3],[25.4,-0.2],[26,-0.1],[24.2,-0.8],[25,-0.8],[25.6,-0.7],[26.2,-0.9],[24.6,-1.3],[25.2,-1.4],[25.8,-1.6],[26.4,-1.5],[25.4,-1.9],[26,-1.9]];
// ---- helpers ----
const px=x=>x/W, py=y=>1-y/H;
const text=(t,x,y,size,anchor='center')=>({text:t,x:px(x),y:py(y),xref:'paper',yref:'paper',xanchor:anchor,yanchor:'middle',showarrow:false,font:{family:SERIF,size,color:'#111'}});
const annotations=[],shapes=[],traces=[];
const dot=(x,y,r,c)=>shapes.push({type:'circle',xref:'paper',yref:'paper',x0:px(x-r),x1:px(x+r),y0:py(y+r),y1:py(y-r),fillcolor:c,line:{width:0}});
function legend(dx,tx,ys,labels,colors,size=17.5,r=6.3,anchor='center'){ys.forEach((y,i)=>{dot(dx,y,r,colors[i]);annotations.push(text(labels[i],tx,y,size,anchor));});}
// ---- panel letters ----
[['(A)',73,14],['(B)',19,515],['(C)',371,515],['(D)',702,515],['(E)',1049,515],['(F)',20,821],['(G)',360,821],['(H)',715,821],['(I)',1067,821]].forEach(a=>annotations.push(text(a[0],a[1],a[2],27)));
// ---- pies ----
const pies=[
 {name:'mouse2',vals:mouse2Pie,cx:224.5,cy:200,r:115.5,tx:223,
  lab:[[244,112],[288,135],[365,157,335,160],[367,190,337,170],[308,218],[269,283],[205,289],[155,249],[140,174],[123,91,160,103],[172,73,195,90],[214,97],[282,70,224,85]]},
 {name:'mouse1',vals:mouse1Pie,cx:530.5,cy:197,r:118,tx:534,
  lab:[[546,106],[589,125],[667,125,637,143],[676,161,641,155],[611,200],[589,260],[527,276],[466,257],[446,200],[444,154],[481,120],[473,74,516,81],[579,69,530,80]]},
 {name:'mouse3tumour',vals:tumourPie,cx:880,cy:201.5,r:115,tx:892,
  lab:[[939,138],[957,240],[883,282],[813,238],[734,182,767,180],[734,158,771,163],[734,132,780,143],[734,83,789,133],[734,108,787,135],[824,127],[803,92,858,90],[800,68,861,89],[958,69,870,87]]},
 {name:'mouse3adj',vals:adjPie,cx:1194,cy:197,r:118,tx:1198,
  lab:[[1262,137],[1281,219],[1223,278],[1125,241],[1041,186,1083,159],[1043,158,1088,142],[1043,131,1100,125],[1045,106,1109,116],[1045,80,1111,113],[1153,112],[1128,71,1178,80],[1248,66,1184,80],[1296,70,1187,79]]}];
pies.forEach(p=>{
 traces.push({type:'pie',name:p.name,labels:clusterNames,values:p.vals,sort:false,direction:'clockwise',rotation:0,textinfo:'none',showlegend:false,
  marker:{colors:pieColors,line:{width:0}},domain:{x:[px(p.cx-p.r),px(p.cx+p.r)],y:[py(p.cy+p.r),py(p.cy-p.r)]}});
 annotations.push(text(p.name,p.tx,27,23.5));
 p.lab.forEach((l,i)=>{
  const base={text:p.vals[i].toFixed(2)+'%',xref:'paper',yref:'paper',xanchor:'center',yanchor:'middle',bgcolor:'#404040',borderpad:2.5,font:{family:'Lato,"Liberation Sans",sans-serif',size:10.5,color:'#fff',weight:700}};
  if(l.length===2) annotations.push({...base,x:px(l[0]),y:py(l[1]),showarrow:false});
  else annotations.push({...base,x:px(l[2]),y:py(l[3]),ax:l[0]-l[2],ay:l[1]-l[3],axref:'pixel',ayref:'pixel',showarrow:true,arrowhead:0,arrowwidth:1,arrowcolor:'#999',standoff:0,startstandoff:0});
 });
});
// pie legend
annotations.push(text('Clustering',215,398,26));
legend(298,309,[356,385,414,443],clusterNames.slice(0,4),pieColors.slice(0,4),23.3,6,'left');
legend(500,511,[356,385,414,443],clusterNames.slice(4,8),pieColors.slice(4,8),23.3,6,'left');
legend(755,768,[348,377,405,434,463],clusterNames.slice(8,13),pieColors.slice(8,13),23.3,6,'left');
// ---- axes ----
const layout={width:W,height:H,margin:{l:0,r:0,t:0,b:0},paper_bgcolor:'#fff',plot_bgcolor:'#fff',showlegend:false,barmode:'stack',hovermode:'closest',annotations,shapes,font:{family:SERIF,color:'#111'}};
let axN=0;
function addAxes(box,xOpt,yOpt){
 axN++; const s=axN===1?'':String(axN);
 const common={showgrid:false,zeroline:false,showline:true,mirror:true,linecolor:'#222',linewidth:1.6,ticks:'outside',ticklen:3,tickcolor:'#222',tickfont:{family:SERIF,size:17,color:'#111'},automargin:false};
 layout['xaxis'+s]={...common,anchor:'y'+s,domain:[px(box[0]),px(box[1])],...xOpt};
 layout['yaxis'+s]={...common,anchor:'x'+s,domain:[py(box[3]),py(box[2])],tickangle:-90,...yOpt};
 return {x:'x'+s,y:'y'+s};
}
const yTitle=(t,x,y)=>annotations.push({...text(t,x,y,17),textangle:-90});
// ---- tSNE panels ----
function tsne(box,xr,yr,xt,yt,groups,xs,ys,xtitle,ytitle){
 const fmt=v=>String(v);
 const a=addAxes(box,{range:xr,tickmode:'array',tickvals:xt,ticktext:xt.map(fmt),ticklabelstandoff:xs},
  {range:yr,tickmode:'array',tickvals:yt,ticktext:yt.map(fmt),ticklabelstandoff:ys});
 annotations.push(text('tSNE 1',xtitle[0],xtitle[1],17));
 yTitle('tSNE 2',ytitle[0],ytitle[1]);
 groups.forEach((g,i)=>traces.push({type:'scatter',mode:'markers',name:String(i),xaxis:a.x,yaxis:a.y,x:g.map(p=>p[0]),y:g.map(p=>p[1]),marker:{color:tab[i],size:3.8,line:{width:0}},cliponaxis:true}));
}
tsne([35,272,538,768],[-20.4,26.5],[-23.1,19.7],[-20,-10,0,10,20],[-20,-10,0,10],[T0,T1,T2,T3,T4,T5,T6,T7],-8,-7,[138,796],[10,665]);
tsne([379,613,536,763],[-39,37],[-35.5,29],[-20,0,20],[-30,-20,-10,0,10,20],[B0,B1,B2],-7,-7,[499,793],[352,662]);
tsne([726,966,541,763],[-8.5,9],[-8.46,10],[-5,0,5],[-5,0,5,10],[D0,D1,D2,D3,D4,D5,D6],-8,-6,[843,794],[700,657]);
tsne([1065,1296,534,758],[-21.5,35],[-16.5,12.9],[-20,-10,0,10,20,30],[-10,0,10],[N0,N1,N2,N3,N4,N5],-5,-6,[1170,790],[1038,657]);
const idx=n=>Array.from({length:n},(_,i)=>String(i));
annotations.push(text('T cell',298,571,17));
legend(287,304,[597,619,641,663,685,707,729,751],idx(8),tab);
annotations.push(text('B cell',638,571,17));
legend(633,649,[607,629,652],idx(3),tab);
annotations.push(text('dendritic',969,553,17,'left'),text('cell',969,575,17,'left'));
legend(979,995,[596,617,640,661,683,705,727],idx(7),tab);
annotations.push(text('neutrophil',1334,571,17));
legend(1320,1340,[603,625,647,669,691,713],idx(6),tab);
// ---- stacked bars ----
function bars(box,series,xs,ys,ytitle){
 const a=addAxes(box,{type:'category',categoryorder:'array',categoryarray:sampleNames,range:[-0.6,3.6],tickangle:-90,linewidth:2,ticklabelstandoff:xs,tickfont:{family:SERIF,size:17.3,color:'#111'}},
  {range:[-0.05,1.05],tickmode:'array',tickvals:[0,.25,.5,.75,1],ticktext:['0.00','0.25','0.50','0.75','1.00'],linewidth:2,ticklabelstandoff:ys,tickfont:{family:SERIF,size:16.5,color:'#111'}});
 yTitle('Count',ytitle[0],ytitle[1]);
 layout['xaxis'+a.x.slice(1)].linecolor='#111';layout['yaxis'+a.y.slice(1)].linecolor='#111';
 for(let i=series.length-1;i>=0;i--) traces.push({type:'bar',name:String(i),xaxis:a.x,yaxis:a.y,x:sampleNames,y:series[i],width:0.9,marker:{color:tab[i],line:{width:0}}});
}
bars([51,288,836,1169],barF,-6,-2,[14,993]);
bars([398,639,836,1169],barG,-6,-3,[362,993]);
bars([740,983,842,1174],barH,-8,-8,[710,996]);
bars([1087,1325,839,1172],barI,-10,-4,[1058,994]);
annotations.push(text('Clustering',333,938,17),text('Clustering',680,938,17),text('Clustering',1023,938,17),text('Clustering',1363,937,17));
legend(312,328,[975,997,1019,1042,1064,1086,1108,1128],idx(8),tab);
legend(659,675,[974,996,1018],idx(3),tab);
legend(1003.5,1020,[976,998,1020,1042,1064,1086,1107],idx(7),tab);
legend(1347,1367,[968,990,1012,1034,1056,1078],idx(6),tab);
Plotly.newPlot('chart',traces,layout,{displayModeBar:false});
</script></body></html>
